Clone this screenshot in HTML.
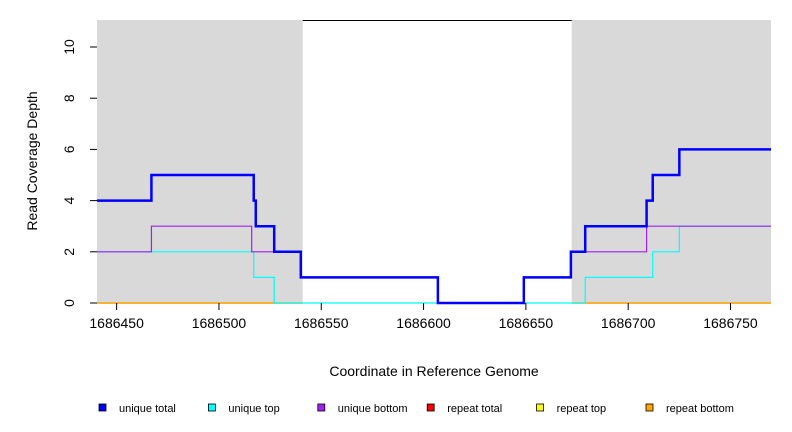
<!DOCTYPE html>
<html><head><meta charset="utf-8"><style>
body{margin:0;background:#fff;}
svg{display:block;font-family:"Liberation Sans",sans-serif;}
</style></head><body>
<svg id="chart" width="792" height="432">
<g id="bg"></g><g id="series"></g><g id="axes"></g>
<text x="434" y="376" font-size="14" text-anchor="middle">Coordinate in Reference Genome</text>
<text transform="translate(37,161) rotate(-90)" font-size="14" text-anchor="middle">Read Coverage Depth</text>
<g id="legend"></g>
</svg>
<script>
const xTicks=[1686450,1686500,1686550,1686600,1686650,1686700,1686750];
const yTicks=[0,2,4,6,8,10];
const xMin=1686440.4, xMax=1686769.8;
const shadeLeft=[1686440.4,1686540.9];
const shadeRight=[1686672.4,1686769.8];
const totalX=[1686440,1686467,1686517,1686518,1686527,1686540,1686607,1686649,1686672,1686679,1686709,1686712,1686725];
const totalY=[4,5,4,3,2,1,0,1,2,3,4,5,6];
const bottomX=[1686440,1686467,1686516,1686540,1686607,1686649,1686672,1686709];
const bottomY=[2,3,2,1,0,1,2,3];
const topX=[1686440,1686517,1686527,1686679,1686712,1686725];
const topY=[2,1,0,1,2,3];
const legendLabels=["unique total","unique top","unique bottom","repeat total","repeat top","repeat bottom"];
const legendColors=["#0000ff","#00ffff","#a020f0","#ff0000","#ffff00","#ffa500"];

const NS="http://www.w3.org/2000/svg";
const X0=97,X1=771,Y0=303,Y10=47,TOP=20;
const sx=c=>X0+(c-xMin)/(xMax-xMin)*(X1-X0);
const sy=v=>Y0+(Y10-Y0)*v/10;
function mk(tag,attrs,parent){const e=document.createElementNS(NS,tag);for(const k in attrs)e.setAttribute(k,attrs[k]);parent.appendChild(e);return e;}
const bg=document.getElementById('bg'),ser=document.getElementById('series'),ax=document.getElementById('axes'),lg=document.getElementById('legend');
[shadeLeft,shadeRight].forEach((s,i)=>{
 const r=mk('rect',{x:sx(s[0]),y:TOP,width:sx(s[1])-sx(s[0]),height:Y0-TOP+1,fill:'#d9d9d9'},bg);
 
 
});
const tl=mk('line',{x1:sx(shadeLeft[1]),x2:sx(shadeRight[0]),y1:TOP+0.5,y2:TOP+0.5,stroke:'#000','stroke-width':1},bg);


function stepPath(xs,ys){let d='';for(let i=0;i<xs.length;i++){const x=Math.max(sx(xs[i]),X0),y=sy(ys[i]);const xn=i+1<xs.length?sx(xs[i+1]):X1;d+=(i?'L':'M')+x+','+y+'L'+xn+','+y;}return d;}
const orange=mk('path',{d:'M'+sx(shadeLeft[0])+','+Y0+'L'+sx(shadeLeft[1])+','+Y0+'M'+sx(shadeRight[0])+','+Y0+'L'+X1+','+Y0,stroke:'#ffa500','stroke-width':1.5,fill:'none'},ser);


const pc=mk('path',{d:stepPath(topX,topY),stroke:'#00ffff','stroke-width':1.2,fill:'none'},ser);


const pb=mk('path',{d:stepPath(bottomX,bottomY),stroke:'#a020f0','stroke-width':1.2,fill:'none'},ser);


const pt=mk('path',{d:stepPath(totalX,totalY),stroke:'#0000ff','stroke-width':2.5,fill:'none'},ser);


xTicks.forEach(t=>{const x=sx(t);
 const l=mk('line',{x1:x,x2:x,y1:Y0,y2:Y0+7,stroke:'#000'},ax);
 
 
 const tx=mk('text',{x:x,y:Y0+25,'font-size':14,'text-anchor':'middle'},ax);tx.textContent=t;
 
 
});
yTicks.forEach(t=>{const y=sy(t);
 const l=mk('line',{x1:90,x2:X0,y1:y,y2:y,stroke:'#000'},ax);
 
 
 const tx=mk('text',{transform:'translate(74,'+y+') rotate(-90)','font-size':14,'text-anchor':'middle'},ax);tx.textContent=t;
 
 
});
legendLabels.forEach((lab,i)=>{const x=99+i*109.4;
 const r=mk('rect',{x:x,y:404,width:7,height:7,fill:legendColors[i],stroke:'#000','stroke-width':0.8},lg);
 
 
 const t=mk('text',{x:x+20,y:412,'font-size':11},lg);t.textContent=lab;
 
 
});
</script>
</body></html>
